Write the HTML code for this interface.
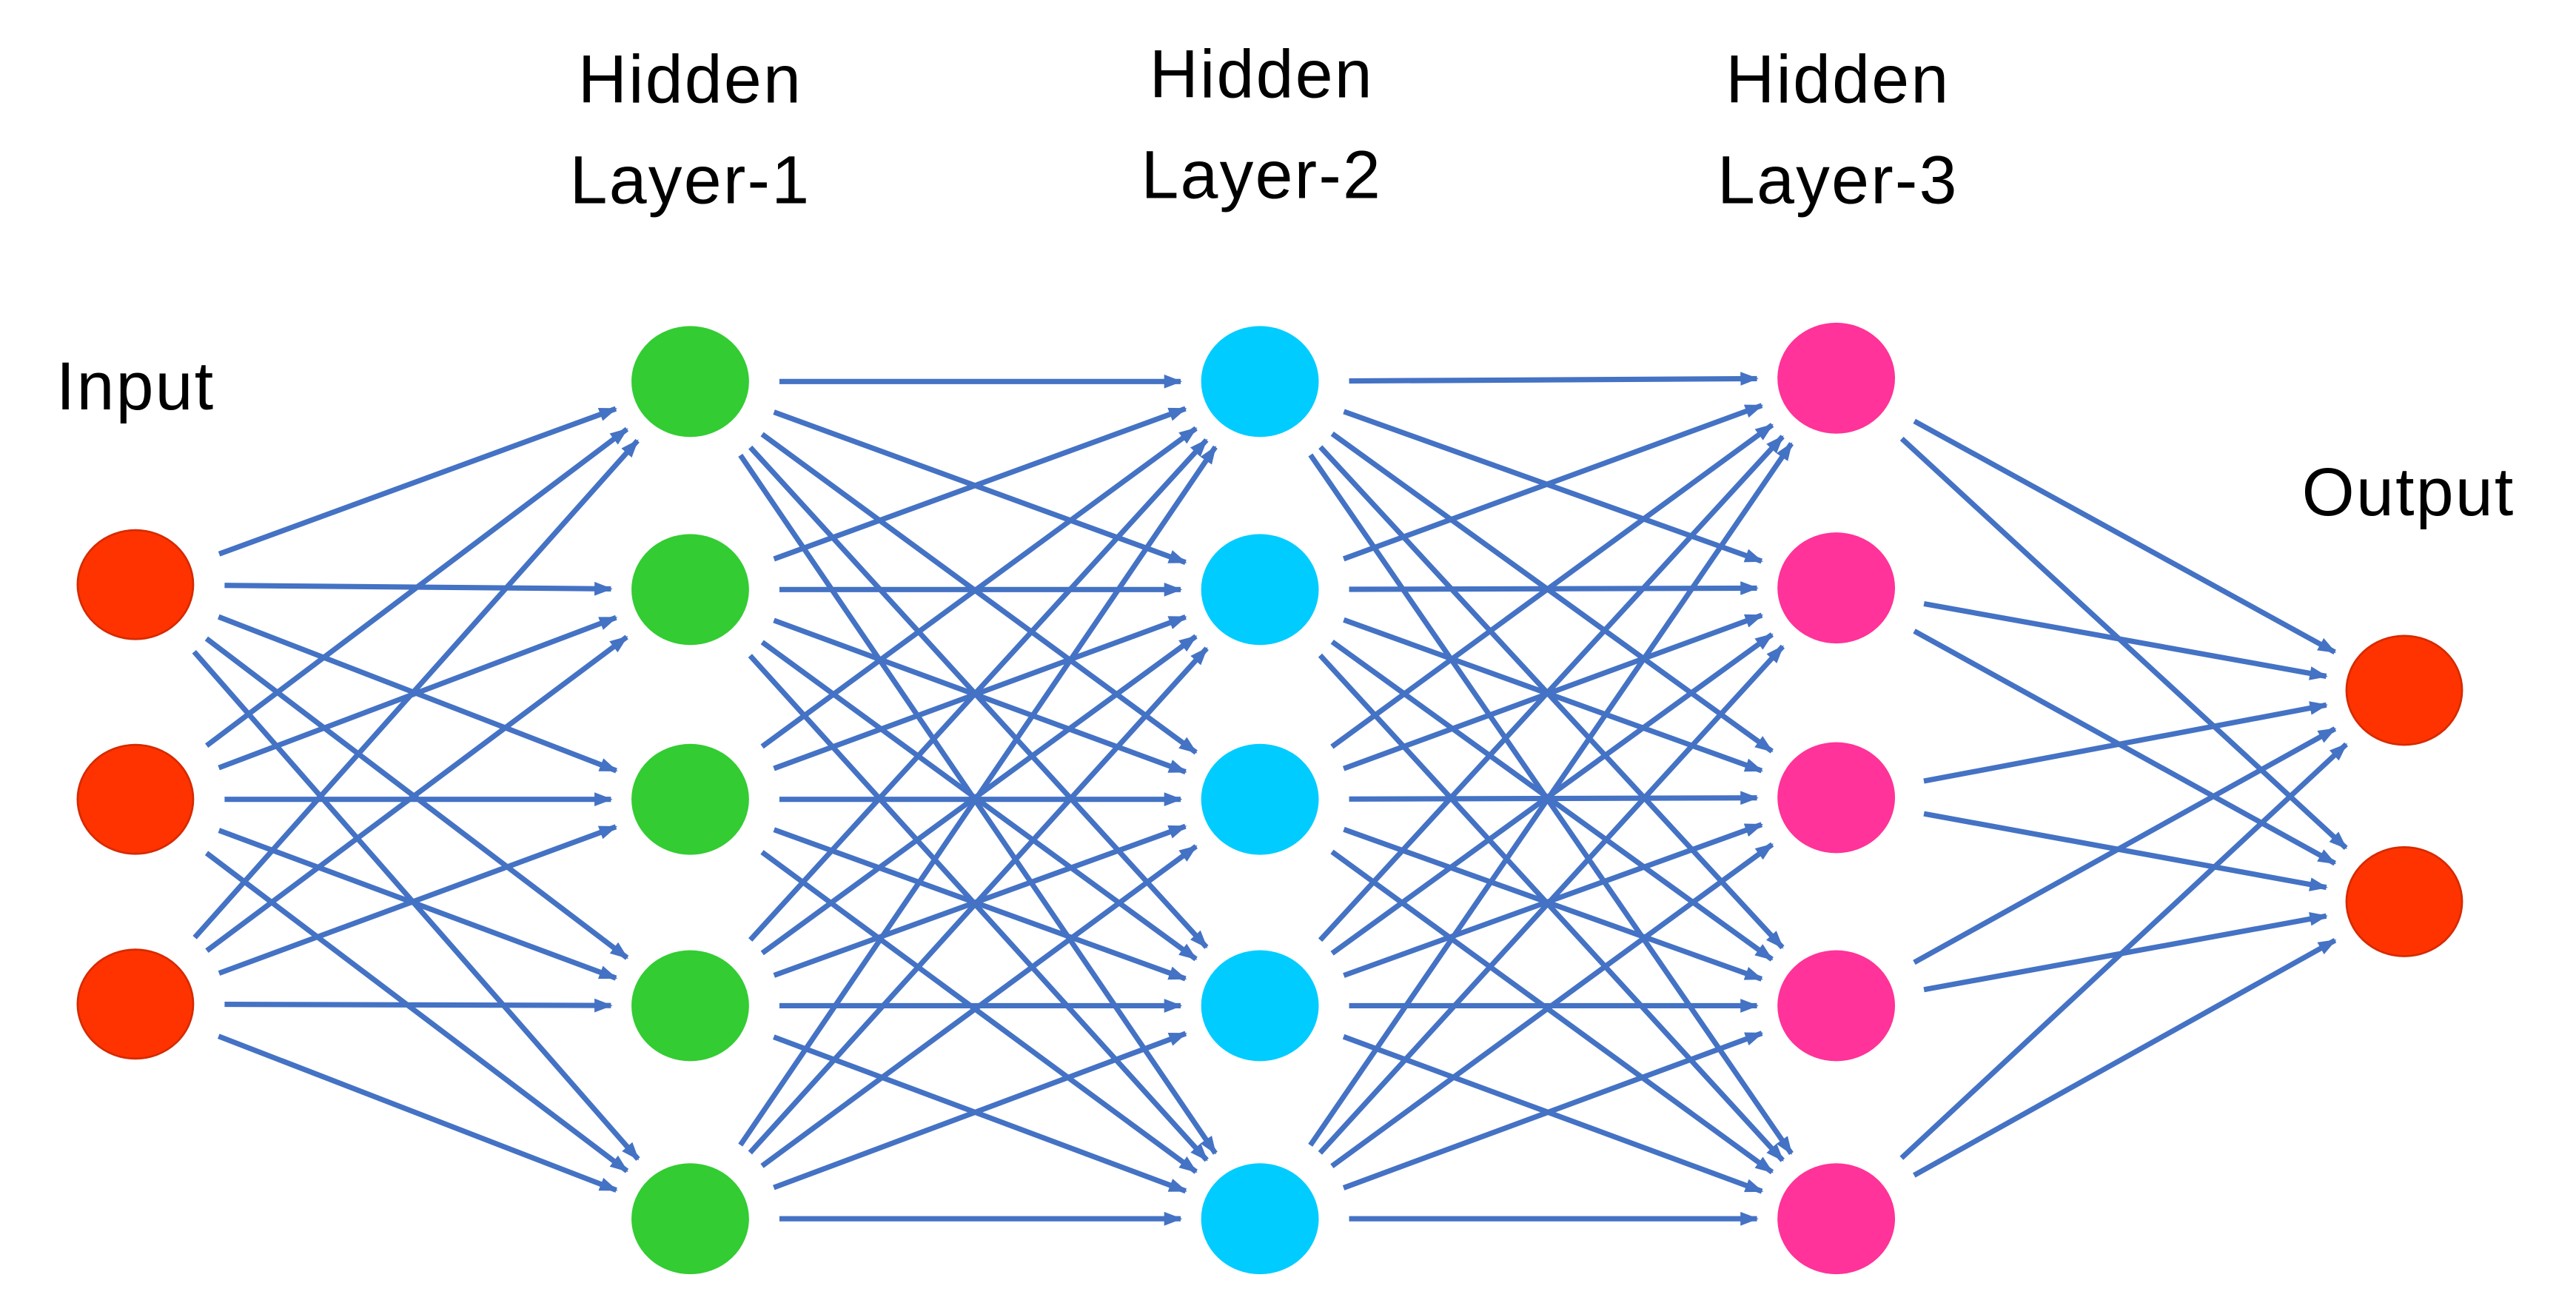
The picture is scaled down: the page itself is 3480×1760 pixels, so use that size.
<!DOCTYPE html>
<html><head><meta charset="utf-8"><style>
html,body{margin:0;padding:0;background:#fff;width:3480px;height:1760px;overflow:hidden}
svg{display:block}
text{font-family:"Liberation Sans",sans-serif;font-size:41px;fill:#000;letter-spacing:1px}
</style></head><body>
<svg id="s" width="3480" height="1760" viewBox="0 0 1560 789" preserveAspectRatio="none" xmlns="http://www.w3.org/2000/svg">
<defs><marker id="a" markerWidth="11" markerHeight="10" refX="10" refY="5" orient="auto" markerUnits="userSpaceOnUse" viewBox="0 0 11 10"><path d="M0,0.8 L11,5 L0,9.2 Z" fill="#4472C4"/></marker></defs>
<g id="e" stroke="#4472C4" stroke-width="3.2" fill="none"></g>
<g id="n"></g>
<text x="34" y="248">Input</text>
<text x="418" y="62" text-anchor="middle">Hidden</text>
<text x="418" y="123" text-anchor="middle">Layer-1</text>
<text x="764" y="59" text-anchor="middle">Hidden</text>
<text x="764" y="120" text-anchor="middle">Layer-2</text>
<text x="1113" y="62" text-anchor="middle">Hidden</text>
<text x="1113" y="123" text-anchor="middle">Layer-3</text>
<text x="1394" y="312">Output</text>
</svg>
<script>
var L=[
 {x:82,ys:[354,484,608],f:"#FF3300",s:"#D62A00"},
 {x:418,ys:[231,357,484,609,738],f:"#33CC33",s:"#33CC33"},
 {x:763,ys:[231,357,484,609,738],f:"#00CCFF",s:"#00CCFF"},
 {x:1112,ys:[229,356,483,609,738],f:"#FF3399",s:"#FF3399"},
 {x:1456,ys:[418,546],f:"#FF3300",s:"#D62A00"}];
var NS="http://www.w3.org/2000/svg",e=document.getElementById("e"),n=document.getElementById("n");
for(var i=0;i<L.length-1;i++){var A=L[i],B=L[i+1];
 A.ys.forEach(function(y1){B.ys.forEach(function(y2){
  var dx=B.x-A.x,dy=y2-y1,d=Math.sqrt(dx*dx+dy*dy),ux=dx/d,uy=dy/d;
  var l=document.createElementNS(NS,"line");
  l.setAttribute("x1",A.x+ux*54);l.setAttribute("y1",y1+uy*54);
  l.setAttribute("x2",B.x-ux*48);l.setAttribute("y2",y2-uy*48);
  l.setAttribute("marker-end","url(#a)");e.appendChild(l);});});}
L.forEach(function(c){c.ys.forEach(function(y){
 var o=document.createElementNS(NS,"ellipse");o.setAttribute("cx",c.x);o.setAttribute("cy",y);
 o.setAttribute("rx",35);o.setAttribute("ry",33);o.setAttribute("fill",c.f);o.setAttribute("stroke",c.s);o.setAttribute("stroke-width",1.2);n.appendChild(o);});});
</script>
</body></html>
